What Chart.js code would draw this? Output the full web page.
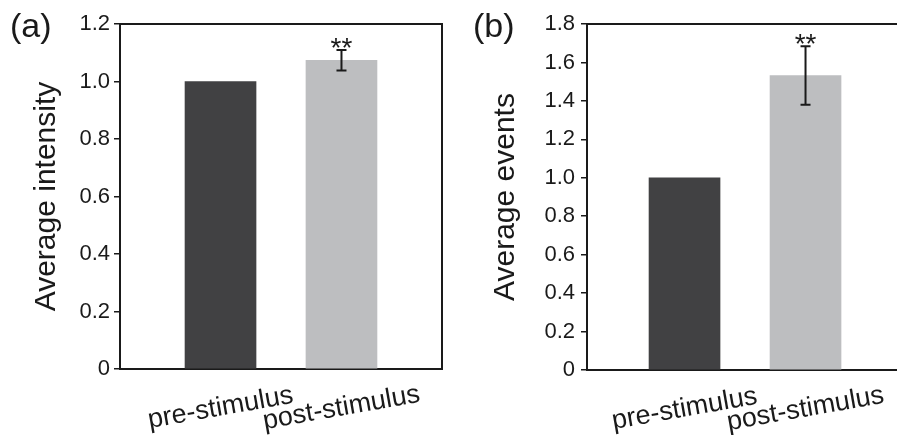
<!DOCTYPE html>
<html>
<head>
<meta charset="utf-8">
<script src="https://cdn.jsdelivr.net/npm/chart.js@4.4.1/dist/chart.umd.min.js"></script>
<style>
  html, body { margin: 0; padding: 0; background: #fff; }
  #wrap { position: relative; width: 897px; height: 435px; }
  #chartA { position: absolute; left: 0; top: 0; }
  #chartB { position: absolute; left: 448px; top: 0; }
</style>
</head>
<body>
<div id="wrap">
  <canvas id="chartA" width="448" height="435"></canvas>
  <canvas id="chartB" width="449" height="435"></canvas>
</div>
<script>
// data
const categories = ["pre-stimulus", "post-stimulus"];
const intensityMeans = [1.0, 1.074];
const intensityErrors = [0, 0.036];
const eventMeans = [1.0, 1.532];
const eventErrors = [0, 0.152];
const significance = ["", "**"];
const intensityTicks = [0, 0.2, 0.4, 0.6, 0.8, 1.0, 1.2];
const eventTicks = [0, 0.2, 0.4, 0.6, 0.8, 1.0, 1.2, 1.4, 1.6, 1.8];
const barColors = ["#414143", "#bdbec0"];

const FONT = "'Liberation Sans', Arial, sans-serif";
const INK = "#1a1a1a";
Chart.defaults.font.family = FONT;
Chart.defaults.color = INK;

// frame, error bars, stars, rotated category labels and panel letter
const panelDecor = {
    id: "panelDecor",
    afterDatasetsDraw(chart, args, opts) {
        const { ctx, chartArea: a, scales: { y } } = chart;
        const meta = chart.getDatasetMeta(0);
        const pts = chart.data.datasets[0].data;
        ctx.save();

        ctx.strokeStyle = INK;
        ctx.lineWidth = 2;
        ctx.beginPath();
        ctx.moveTo(a.left - 1, a.top);
        ctx.lineTo(a.right, a.top);
        if (opts.rightBorder) ctx.lineTo(a.right, a.bottom);
        ctx.stroke();

        opts.errors.forEach((e, i) => {
            const cx = meta.data[i].x;
            const v = pts[i].y;
            if (e) {
                const yt = y.getPixelForValue(v + e);
                const yb = y.getPixelForValue(v - e);
                ctx.beginPath();
                ctx.moveTo(cx, yt); ctx.lineTo(cx, yb);
                ctx.moveTo(cx - 5, yt); ctx.lineTo(cx + 5, yt);
                ctx.moveTo(cx - 5, yb); ctx.lineTo(cx + 5, yb);
                ctx.stroke();
            }
            if (opts.marks[i]) {
                ctx.fillStyle = INK;
                ctx.font = "28px " + FONT;
                ctx.textAlign = "center";
                ctx.textBaseline = "alphabetic";
                ctx.fillText(opts.marks[i], cx, y.getPixelForValue(v + e) + 7);
            }
            // category label, tilted
            ctx.save();
            ctx.translate(cx, a.bottom + opts.labelOffset);
            ctx.rotate(-10 * Math.PI / 180);
            ctx.fillStyle = INK;
            ctx.font = "27px " + FONT;
            ctx.textAlign = "center";
            ctx.textBaseline = "middle";
            ctx.fillText(chart.data.labels[i], 0, 0);
            ctx.restore();
        });

        ctx.fillStyle = INK;
        ctx.font = "34px " + FONT;
        ctx.textAlign = "left";
        ctx.textBaseline = "alphabetic";
        ctx.fillText(opts.letter, opts.letterX, 37);
        ctx.restore();
    }
};

function makePanel(canvasId, letter, means, errors, ticks, yTitle, lay) {
    return new Chart(document.getElementById(canvasId), {
        type: "bar",
        data: {
            labels: categories,
            datasets: [{
                data: means.map((m, i) => ({ x: i + 1, y: m })),
                backgroundColor: barColors,
                borderWidth: 0,
                barThickness: 71
            }]
        },
        options: {
            responsive: false,
            animation: false,
            layout: { padding: { left: lay.padLeft, right: lay.padRight, top: 24, bottom: 0 } },
            plugins: {
                legend: { display: false },
                tooltip: { enabled: false },
                panelDecor: {
                    letter: letter,
                    letterX: lay.letterX,
                    errors: errors,
                    marks: significance,
                    rightBorder: lay.rightBorder,
                    labelOffset: 39
                }
            },
            scales: {
                x: {
                    type: "linear",
                    offset: false,
                    min: lay.xMin,
                    max: lay.xMax,
                    ticks: { display: false },
                    grid: { drawOnChartArea: false, drawTicks: false, offset: false },
                    border: { color: INK, width: 2 },
                    afterFit: s => { s.height = lay.xHeight; }
                },
                y: {
                    min: 0,
                    max: ticks[ticks.length - 1],
                    afterBuildTicks: s => { s.ticks = ticks.map(v => ({ value: v })); },
                    ticks: {
                        font: { size: 22 },
                        color: INK,
                        padding: lay.tickPad,
                        callback: v => v === 0 ? "0" : v.toFixed(1)
                    },
                    grid: { drawOnChartArea: false, tickLength: 6, color: INK, lineWidth: 1.5 },
                    border: { color: INK, width: 2 },
                    title: {
                        display: true,
                        text: yTitle,
                        font: { size: 30 },
                        color: INK,
                        padding: { top: 0, bottom: 0 }
                    },
                    afterFit: s => { s.width = lay.yWidth; }
                }
            }
        },
        plugins: [panelDecor]
    });
}

makePanel("chartA", "(a)", intensityMeans, intensityErrors, intensityTicks, "Average intensity", {
    padLeft: 29, padRight: 6, yWidth: 91, xHeight: 66, tickPad: 4,
    xMin: 0.169, xMax: 2.831, rightBorder: true, letterX: 10
});
makePanel("chartB", "(b)", eventMeans, eventErrors, eventTicks, "Average events", {
    padLeft: 40, padRight: 0, yWidth: 99, xHeight: 65, tickPad: 6,
    xMin: 0.194, xMax: 2.756, rightBorder: false, letterX: 25
});
</script>
</body>
</html>
